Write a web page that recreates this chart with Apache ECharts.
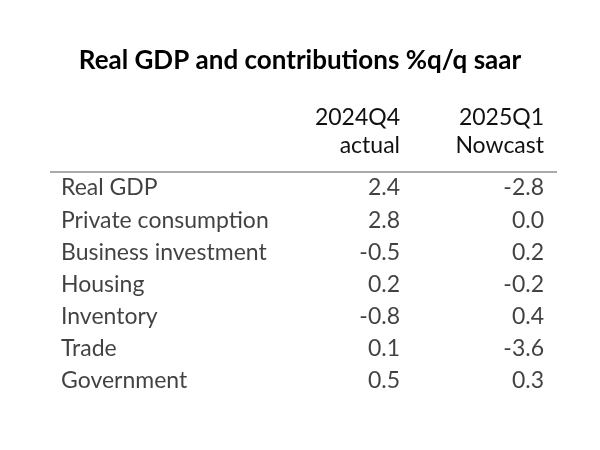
<!DOCTYPE html>
<html><head><meta charset="utf-8">
<script src="https://cdn.jsdelivr.net/npm/echarts@6/dist/echarts.min.js"></script>
<style>html,body{margin:0;background:#fff}#c{width:600px;height:450px}</style>
</head><body><div id="c"></div>
<script>
const rows = ["Real GDP","Private consumption","Business investment","Housing","Inventory","Trade","Government"];
const q4 = ["2.4","2.8","-0.5","0.2","-0.8","0.1","0.5"];
const q1 = ["-2.8","0.0","0.2","-0.2","0.4","-3.6","0.3"];
const headers = [["2024Q4","actual"],["2025Q1","Nowcast"]];
const title = "Real GDP and contributions %q/q saar";

const FONT = "Lato, 'Noto Sans', sans-serif";
const COL_LABEL = 61, COL_A = 400, COL_B = 544;
function ser(x, vals, pos){
  return {type:'scatter', symbolSize:0, silent:true,
    data: vals.map((v,i)=>({value:[x,i], txt:v})),
    label:{show:true, position:pos, distance:0, color:'#111', fontSize:23, fontFamily:FONT,
      formatter:p=>p.data.txt}};
}
const chart = echarts.init(document.getElementById('c'));
chart.setOption({
  backgroundColor:'#fff',
  animation:false,
  title:{text:title, left:'center', top:43, textStyle:{fontFamily:FONT, fontSize:26, fontWeight:'bold', color:'#000'}},
  grid:{left:0,right:0,top:172,bottom:53},
  xAxis:{type:'value',min:0,max:600,show:false},
  yAxis:{type:'category',data:rows,inverse:true,show:false},
  series:[ser(COL_LABEL, rows, 'right'), ser(COL_A, q4, 'left'), ser(COL_B, q1, 'left')],
  graphic:[
    {type:'line', shape:{x1:50,y1:172,x2:557,y2:172}, style:{stroke:'#555',lineWidth:1}},
    ...headers.flatMap((h,j)=>h.map((t,k)=>({type:'text', x:[COL_A,COL_B][j], y:118+k*28,
      style:{text:t, textAlign:'right', textVerticalAlign:'middle', fill:'#111', fontSize:23, fontFamily:FONT}})))
  ]
});
</script></body></html>
